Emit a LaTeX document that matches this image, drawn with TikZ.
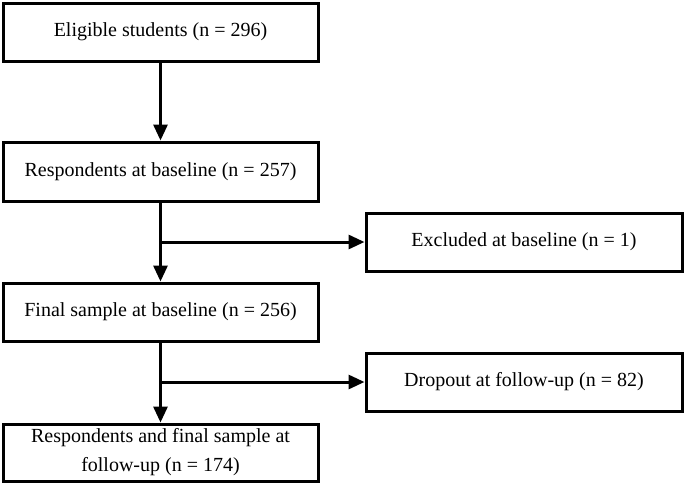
\documentclass[tikz,border=0pt]{standalone}
\usepackage{fontspec}
\setmainfont{Liberation Serif}
\usetikzlibrary{arrows.meta}
\tikzset{
  box/.style={draw=black, line width=3pt, fill=white, align=center,
    inner sep=0pt, font=\fontsize{20}{29}\selectfont},
  leftbox/.style={box, minimum width=315pt},
  rightbox/.style={box, minimum width=316pt, minimum height=58pt},
  arr/.style={line width=3pt, -{Triangle[length=16pt,width=14pt]}}
}
\begin{document}
\begin{tikzpicture}[x=1pt,y=-1pt]
\useasboundingbox (0,0) rectangle (685,485);
\node[leftbox, minimum height=58pt] (b1) at (160.5,32) {Eligible students (n = 296)};
\node[leftbox, minimum height=59pt] (b2) at (160.5,171.5) {Respondents at baseline (n = 257)};
\node[rightbox] (b3) at (524,242) {Excluded at baseline (n = 1)};
\node[leftbox, minimum height=58pt] (b4) at (160.5,312) {Final sample at baseline (n = 256)};
\node[rightbox] (b5) at (524,382) {Dropout at follow-up (n = 82)};
\node[leftbox, minimum height=57pt] (b6) at (160.5,452.5) {Respondents and final sample at\\follow-up (n = 174)};
\coordinate (j1) at (b2.south |- b3.west);
\coordinate (j2) at (b4.south |- b5.west);
\draw[arr] (b1) -- (b2);
\draw[arr] (b2) -- (b4);
\draw[arr] (b4) -- (b6);
\draw[arr] (j1) -- (b3.west);
\draw[arr] (j2) -- (b5.west);
\end{tikzpicture}
\end{document}
